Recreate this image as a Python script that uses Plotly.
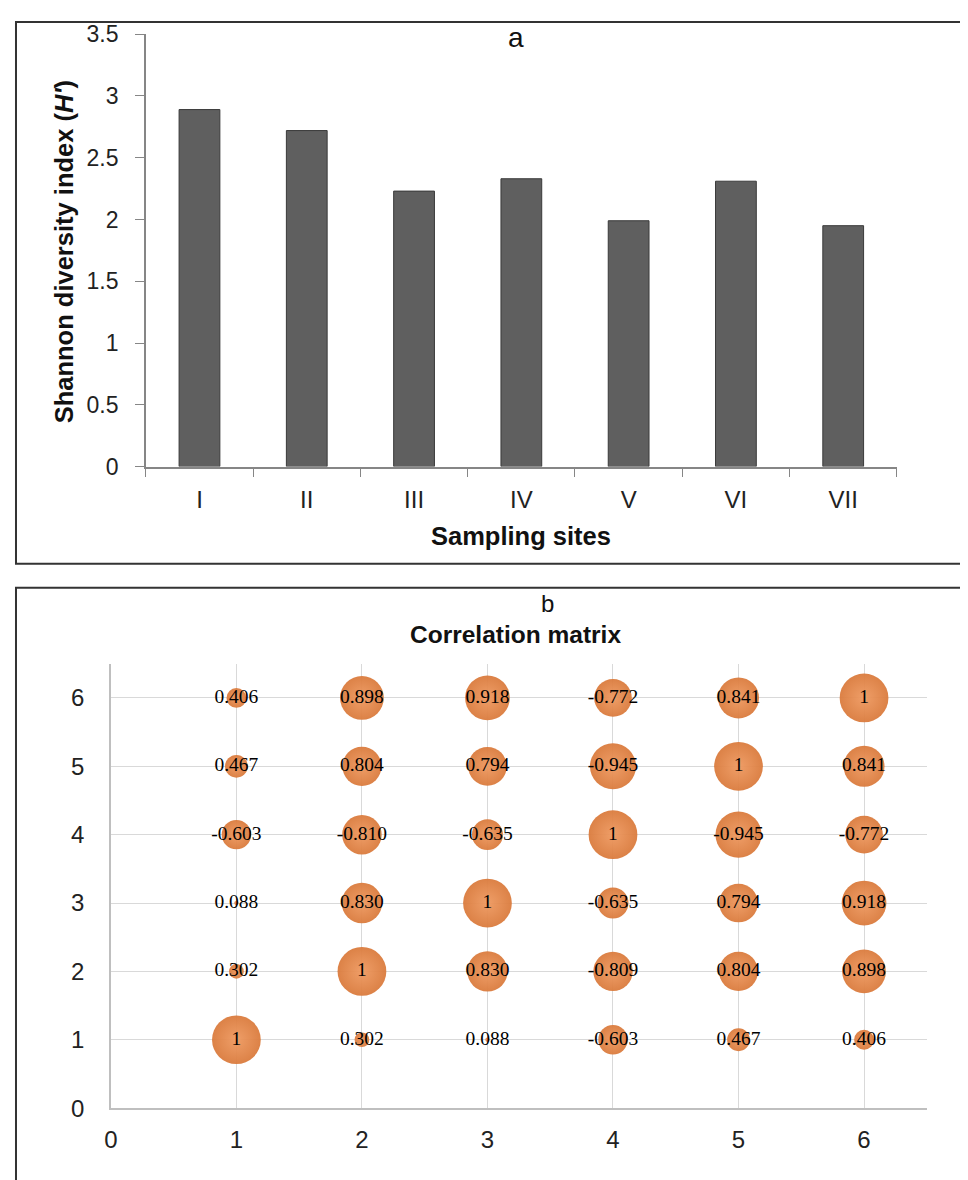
import plotly.graph_objects as go

# ---------------- data ----------------
sites = ["I", "II", "III", "IV", "V", "VI", "VII"]
shannon = [2.89, 2.72, 2.23, 2.33, 1.99, 2.31, 1.95]

variables = [1, 2, 3, 4, 5, 6]
corr_row1 = [1, 0.302, 0.088, -0.603, 0.467, 0.406]
corr_row2 = [0.302, 1, 0.830, -0.809, 0.804, 0.898]
corr_row3 = [0.088, 0.830, 1, -0.635, 0.794, 0.918]
corr_row4 = [-0.603, -0.810, -0.635, 1, -0.945, -0.772]
corr_row5 = [0.467, 0.804, 0.794, -0.945, 1, 0.841]
corr_row6 = [0.406, 0.898, 0.918, -0.772, 0.841, 1]
corr_rows = [corr_row1, corr_row2, corr_row3, corr_row4, corr_row5, corr_row6]

# figure size and the page-to-picture mapping measured from a test render
W, H = 960, 1172
SX, OX = 0.994, 14.0
SY, OY = 0.977, 20.8


def fxp(X):
    return (X - OX) / SX


def fyp(Y):
    return (Y - OY) / SY


def px(X):
    return min(max(fxp(X), 1.0), W - 1.0) / W


def py(Y):
    return 1 - min(max(fyp(Y), 1.0), H + 60) / H


K = 1 / 0.985  # compensate for the slight down-scaling of the picture

SANS = "Liberation Sans, Arial, sans-serif"
SERIF = "Liberation Serif, Times New Roman, serif"

fig = go.Figure()

# ---------------- panel a: bars ----------------
fig.add_trace(go.Bar(
    x=sites, y=shannon, width=0.38,
    marker=dict(color="#5f5f5f", line=dict(color="#3a3a3a", width=1)),
    xaxis="x", yaxis="y", showlegend=False, hoverinfo="x+y",
))

# ---------------- panel b: bubbles ----------------
bx, by, bs, bt = [], [], [], []
for j, row in enumerate(corr_rows):
    for i, r in enumerate(row):
        bx.append(variables[i])
        by.append(variables[j])
        bs.append(abs(r))
        bt.append("1" if r == 1 else f"{r:.3f}")

fig.add_trace(go.Scatter(
    x=bx, y=by, mode="markers+text", text=bt,
    textposition="middle center",
    textfont=dict(family=SERIF, size=19.5, color="#000000"),
    marker=dict(size=bs, sizemode="diameter", sizeref=1 / (48 * K),
                color="#DA7B3D",
                gradient=dict(type="radial", color="#EE9960"),
                line=dict(width=0), opacity=0.95),
    xaxis="x2", yaxis="y2", showlegend=False, hoverinfo="x+y+text",
))

fig.update_layout(
    width=W, height=H,
    margin=dict(l=0, r=0, t=0, b=0),
    paper_bgcolor="white", plot_bgcolor="white",
    font=dict(family=SANS, color="#222222"),
    xaxis=dict(
        domain=[px(145), px(897)], anchor="y",
        type="category", range=[-0.5, 6.5],
        tickson="boundaries", ticks="outside", ticklen=9, tickcolor="#868686",
        showline=True, linecolor="#868686", linewidth=1.5,
        showgrid=False, zeroline=False,
        tickfont=dict(family=SANS, size=24, color="#222222"),
        ticklabelstandoff=11,
    ),
    yaxis=dict(
        domain=[py(466), py(34)], anchor="x",
        range=[0, 3.5], dtick=0.5, tick0=0,
        ticks="outside", ticklen=9, tickcolor="#868686",
        showline=True, linecolor="#868686", linewidth=1.5,
        showgrid=False, zeroline=False,
        tickfont=dict(family=SANS, size=23, color="#222222"),
        ticklabelstandoff=12,
    ),
    xaxis2=dict(
        domain=[px(110), px(927)], anchor="y2",
        range=[0, 6.5], dtick=1, tick0=0,
        showgrid=True, gridcolor="#d9d9d9", gridwidth=1,
        showline=True, linecolor="#bfbfbf", linewidth=1.5,
        zeroline=False, ticks="",
        tickfont=dict(family=SANS, size=24, color="#222222"),
        ticklabelstandoff=9,
    ),
    yaxis2=dict(
        domain=[py(1107), py(663)], anchor="x2",
        range=[0, 6.5], dtick=1, tick0=0,
        showgrid=True, gridcolor="#d9d9d9", gridwidth=1,
        showline=True, linecolor="#bfbfbf", linewidth=1.5,
        zeroline=False, ticks="",
        tickfont=dict(family=SANS, size=24, color="#222222"),
        ticklabelstandoff=20,
    ),
    shapes=[
        dict(type="rect", xref="paper", yref="paper",
             x0=px(11), x1=px(966), y0=py(563), y1=py(6),
             line=dict(color="#333333", width=2)),
        dict(type="rect", xref="paper", yref="paper",
             x0=px(11), x1=px(966), y0=py(1300), y1=py(587),
             line=dict(color="#333333", width=2)),
    ],
    annotations=[
        dict(text="a", x=px(516), y=py(37), xref="paper", yref="paper",
             showarrow=False, font=dict(family=SANS, size=28, color="#111111"),
             xanchor="center", yanchor="middle"),
        dict(text="<b>Shannon diversity index (<i>H'</i>)</b>",
             x=px(63), y=py(251), xref="paper", yref="paper",
             showarrow=False, textangle=-90,
             font=dict(family=SANS, size=25.5, color="#111111"),
             xanchor="center", yanchor="middle"),
        dict(text="<b>Sampling sites</b>", x=px(521), y=py(535),
             xref="paper", yref="paper", showarrow=False,
             font=dict(family=SANS, size=25.5, color="#111111"),
             xanchor="center", yanchor="middle"),
        dict(text="b", x=px(547), y=py(603), xref="paper", yref="paper",
             showarrow=False, font=dict(family=SANS, size=24, color="#111111"),
             xanchor="center", yanchor="middle"),
        dict(text="<b>Correlation matrix</b>", x=px(515), y=py(634),
             xref="paper", yref="paper", showarrow=False,
             font=dict(family=SANS, size=24.5, color="#111111"),
             xanchor="center", yanchor="middle"),
    ],
)

fig.write_html("out.html")
